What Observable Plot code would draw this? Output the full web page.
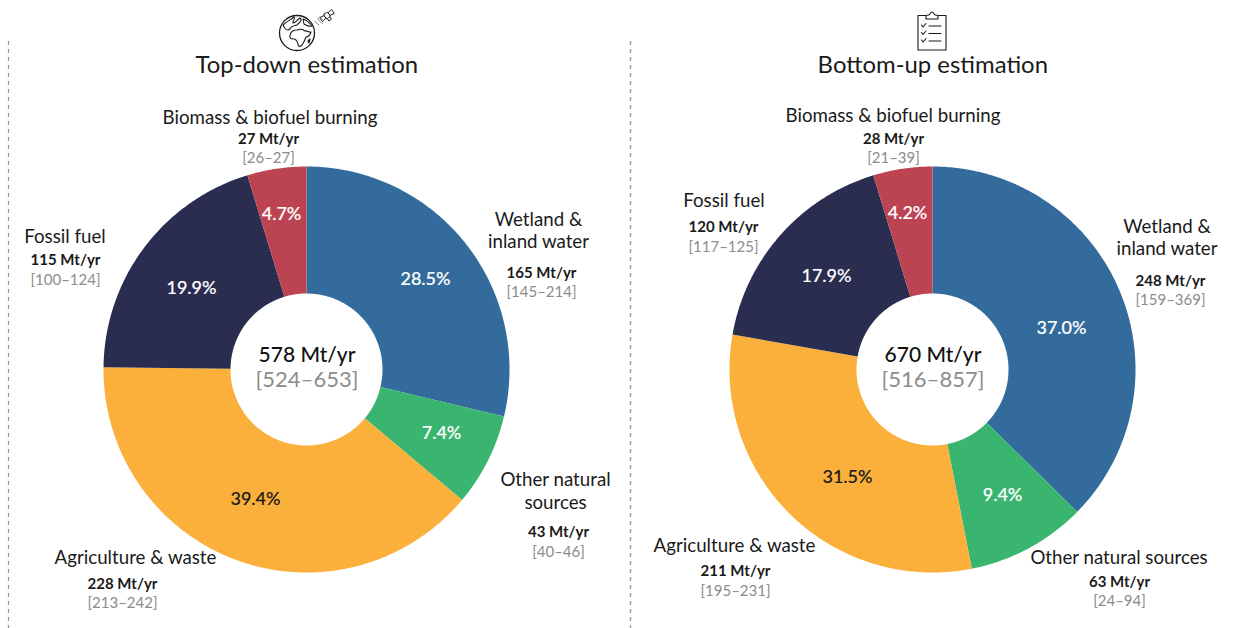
<!DOCTYPE html>
<html><head><meta charset="utf-8">
<script src="https://cdn.jsdelivr.net/npm/d3@7"></script>
<script src="https://cdn.jsdelivr.net/npm/@observablehq/plot@0.6"></script>
<style>html,body{margin:0;padding:0;background:#fff}svg{display:block}</style>
</head><body><div id="chart"></div>
<script>
const categories = ["Wetland & inland water","Other natural sources","Agriculture & waste","Fossil fuel","Biomass & biofuel burning"];
const colours = ["#336b9c","#39b570","#fbb03b","#2b2d50","#bc4452"];
const topDownValues = [165,43,228,115,27];
const topDownRanges = ["[145–214]","[40–46]","[213–242]","[100–124]","[26–27]"];
const topDownShares = ["28.5%","7.4%","39.4%","19.9%","4.7%"];
const topDownSliceSizes = [28.71,7.39,39.08,20.12,4.7];   // slice sizes
const bottomUpValues = [248,63,211,120,28];
const bottomUpRanges = ["[159–369]","[24–94]","[195–231]","[117–125]","[21–39]"];
const bottomUpShares = ["37.0%","9.4%","31.5%","17.9%","4.2%"];
const bottomUpSliceSizes = [37.36,9.54,30.86,17.53,4.71];  // slice sizes
const totals = ["578 Mt/yr","670 Mt/yr"];
const totalRanges = ["[524–653]","[516–857]"];
const titles = ["Top-down estimation","Bottom-up estimation"];

// layout (pixel space of the drawing)
const FONT = "Lato, 'Open Sans', sans-serif";
const W = 1242, H = 628, R = 203, r = 76;
const centres = [[306,369],[932,369]];
const nameLines = [
  [["Wetland &","inland water"],["Other natural","sources"],["Agriculture & waste"],["Fossil fuel"],["Biomass & biofuel burning"]],
  [["Wetland &","inland water"],["Other natural sources"],["Agriculture & waste"],["Fossil fuel"],["Biomass & biofuel burning"]]
];
// [x of names, y of each name line, x of numbers, y of value, y of range, x of share, y of share]
const labelPos = [
  [[538,[219.5,241.5],541,273,292,425,279],[555,[479.5,502.5],558,532,552,441,433],[135,[557.5],122,584,603,255,499],[64.500,[236.5],65,260,280,191,288],[269.500,[117.5],268,139,158,281,214]],
  [[1166.500,[226.5,248.5],1170,281,300,1061,328],[1118.500,[557.5],1119,582,601,1002,495],[734,[545.5],735,571,591,847,477],[723.500,[200.5],723,227,247,826,276],[892.500,[115.5],893,139,158,907,213]]
];

const panels = [
  {values: topDownValues, sizes: topDownSliceSizes, ranges: topDownRanges, shares: topDownShares},
  {values: bottomUpValues, sizes: bottomUpSliceSizes, ranges: bottomUpRanges, shares: bottomUpShares}
];

const slices = [], names = [], nums = [], rngs = [], pcts = [];
panels.forEach((p, pi) => {
  const [cx, cy] = centres[pi];
  const sum = d3.sum(p.sizes);
  let acc = 0;
  p.values.forEach((v, i) => {
    const s = p.sizes[i];
    const a0 = acc / sum * 2 * Math.PI, a1 = (acc + s) / sum * 2 * Math.PI;
    acc += s;
    const n = Math.max(2, Math.ceil((a1 - a0) / 0.01));
    const pts = [];
    for (let k = 0; k <= n; k++) { const a = a0 + (a1 - a0) * k / n; pts.push([a, R]); }
    for (let k = n; k >= 0; k--) { const a = a0 + (a1 - a0) * k / n; pts.push([a, r]); }
    pts.push(pts[0]);
    pts.forEach(([a, rad], order) => slices.push({
      id: pi + "-" + i, category: categories[i], order,
      x: cx + rad * Math.sin(a), y: cy - rad * Math.cos(a)
    }));
    const L = labelPos[pi][i];
    nameLines[pi][i].forEach((t, li) => names.push({t, x: L[0], y: L[1][li]}));
    nums.push({t: v + " Mt/yr", x: L[2], y: L[3]});
    rngs.push({t: p.ranges[i], x: L[2], y: L[4]});
    pcts.push({t: p.shares[i], x: L[5], y: L[6], dark: i === 2});
  });
});

function icons() {
  const ns = "http://www.w3.org/2000/svg";
  const g = document.createElementNS(ns, "g");
  g.setAttribute("fill", "none"); g.setAttribute("stroke", "#1a1a1a"); g.setAttribute("stroke-width", "1.1");
  g.setAttribute("stroke-linejoin", "round"); g.setAttribute("stroke-linecap", "round");
  g.innerHTML = `
  <g transform="translate(297,33)">
    <circle r="17.5" stroke-width="1.3"/>
    <path d="M-14,-8 C-10,-12 -6,-13 -3,-16 C-1,-14 -5,-12 -4,-10 C-1,-10 0,-13 3,-15 C6,-13 2,-10 0,-8 C-3,-7 -6,-7 -7,-4 C-9,-2 -12,-3 -14,-8Z"/>
    <path d="M-7,2 C-6,-2 -2,-3 0,-3 C3,-4 6,-4 8,-2 C10,-3 12,0 14,-1 C13,2 11,4 9,4 C8,7 7,9 5,12 C3,14 1,14 1,11 C0,8 -1,6 -3,6 C-6,6 -8,5 -7,2Z"/>
    <path d="M6,-14 C9,-13 12,-11 15,-7 C12,-6 9,-8 7,-9Z"/>
    <path d="M11,8 L13,6 L12,10Z"/>
  </g>
  <g transform="translate(327,15.500) rotate(-35) scale(0.8)">
    <rect x="-3" y="-3.500" width="6" height="7" rx="1.500"/>
    <path d="M-3,-2 L-9,-3 L-9,3 L-3,2 M3,-2 L9,-3 L9,3 L3,2"/>
    <path d="M-2,3.500 L-2,7 L2,7 L2,3.500"/>
  </g>
  <path d="M315,21 q1.500,3 4,4 M317.500,18 q1.500,4 5,5.500 M320,16.500 q1,3 3.500,4" stroke-width="0.8" stroke="#777"/>
  <g transform="translate(918,15)">
    <path d="M0,0.500 H28 V35 H0 Z"/>
    <path d="M8,4 V1 Q8,0 10,0 H11 Q13,-3 14,-3 Q15,-3 17,0 H18 Q20,0 20,1 V4 Z" fill="#fff"/>
    <path d="M3.500,10 l1.500,2 l3,-3.500 M3.500,17.500 l1.500,2 l3,-3.500 M3.500,25 l1.500,2 l3,-3.500"/>
    <path d="M11,11 H23 M11,18.500 H23 M11,26 H23"/>
  </g>`;
  return g;
}

const common = {fontFamily: FONT, textAnchor: "middle", lineAnchor: "middle"};
const chart = Plot.plot({
  width: W, height: H,
  margin: 0,
  style: {background: "#fff", fontFamily: FONT},
  x: {domain: [0, W], range: [0, W], axis: null},
  y: {domain: [0, H], range: [0, H], axis: null},
  color: {domain: categories, range: colours},
  marks: [
    Plot.ruleX([8, 630], {y1: 41, y2: H, stroke: "#999", strokeWidth: 1.3, strokeDasharray: "4 4"}),
    Plot.line(slices, {x: "x", y: "y", z: "id", fill: "category", stroke: "none", sort: "order", curve: "linear"}),
    Plot.text(titles, {x: (d, i) => centres[i][0] + 0.3, y: 65, text: d => d, fontSize: 23.9, fontWeight: 400, fill: "#1a1a1a", ...common}),
    Plot.text(names, {x: "x", y: "y", text: "t", fontSize: 18.7, fill: "#1a1a1a", ...common}),
    Plot.text(nums, {x: "x", y: "y", text: "t", fontSize: 15, fontWeight: 700, fill: "#1a1a1a", ...common}),
    Plot.text(rngs, {x: "x", y: "y", text: "t", fontSize: 15, fill: "#8c8c8c", ...common}),
    Plot.text(pcts, {x: "x", y: "y", text: "t", fontSize: 18, fontWeight: 500, fill: d => d.dark ? "#1a1a1a" : "#fff", stroke: d => d.dark ? "#1a1a1a" : "#fff", strokeWidth: 0.15, ...common}),
    Plot.text(totals, {x: (d, i) => centres[i][0] + 0.5, y: 354.5, text: d => d, fontSize: 21, fontWeight: 500, fill: "#111", ...common}),
    Plot.text(totalRanges, {x: (d, i) => centres[i][0] + 0.5, y: 379, text: d => d, fontSize: 22, fill: "#8c8c8c", ...common}),
    icons
  ]
});
document.getElementById("chart").append(chart);
</script>
</body></html>
